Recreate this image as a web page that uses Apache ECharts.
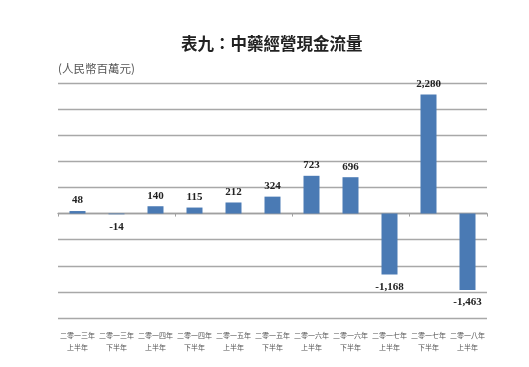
<!DOCTYPE html>
<html>
<head>
<meta charset="utf-8">
<script src="https://cdn.jsdelivr.net/npm/echarts@6/dist/echarts.min.js"></script>
<style>
html,body{margin:0;padding:0;background:#fff;}
#c{width:529px;height:367px;}
</style>
</head>
<body>
<div id="c"></div>
<script>
var titleText = '表九：中藥經營現金流量';
var unitText = '(人民幣百萬元)';
var categories = [
  '二零一三年\n上半年', '二零一三年\n下半年',
  '二零一四年\n上半年', '二零一四年\n下半年',
  '二零一五年\n上半年', '二零一五年\n下半年',
  '二零一六年\n上半年', '二零一六年\n下半年',
  '二零一七年\n上半年', '二零一七年\n下半年',
  '二零一八年\n上半年'
];
var values = [48, -14, 140, 115, 212, 324, 723, 696, -1168, 2280, -1463];
var yMin = -2000, yMax = 2500, yStep = 500;

var chart = echarts.init(document.getElementById('c'), null, {renderer: 'canvas'});
var barData = values.map(function (v) {
  return {
    value: v,
    label: {position: v < 0 ? 'bottom' : 'top', distance: v < 0 ? 7 : 5}
  };
});
chart.setOption({
  animation: false,
  backgroundColor: '#fff',
  title: {
    text: titleText,
    left: 176, top: 30,
    textStyle: {fontFamily: 'Noto Sans CJK TC', fontWeight: 'bold', fontSize: 16.5, color: '#222'}
  },
  graphic: [{
    type: 'text', left: 58, top: 63,
    style: {text: unitText, fontFamily: 'Noto Sans CJK TC', fontSize: 11.5, fill: '#555'}
  }],
  grid: {left: 58, right: 42, top: 83, bottom: 49, containLabel: false},
  xAxis: [{
    type: 'category', data: categories, position: 'bottom',
    axisLine: {onZero: true, lineStyle: {color: '#a0a0a0', width: 1.3}},
    axisTick: {show: true, length: 3, lineStyle: {color: '#a0a0a0'}},
    axisLabel: {show: false}
  }, {
    type: 'category', data: categories, position: 'bottom',
    axisLine: {show: false, onZero: false},
    axisTick: {show: false},
    axisLabel: {show: true, interval: 0, margin: 11, fontSize: 7, lineHeight: 12,
      fontFamily: 'Noto Sans CJK TC', color: '#555'}
  }],
  yAxis: {
    type: 'value', min: yMin, max: yMax, interval: yStep,
    axisLine: {show: false}, axisTick: {show: false}, axisLabel: {show: false},
    splitLine: {show: true, lineStyle: {color: '#a8a8a8', width: 1.3}}
  },
  series: [{
    type: 'bar', xAxisIndex: 0, data: barData, barWidth: 16,
    itemStyle: {color: '#4a7ab4'},
    label: {
      show: true, fontFamily: 'Liberation Serif', fontWeight: 'bold', fontSize: 11, color: '#222',
      formatter: function (p) { return p.value.toLocaleString('en-US'); }
    }
  }]
});
</script>
</body>
</html>
